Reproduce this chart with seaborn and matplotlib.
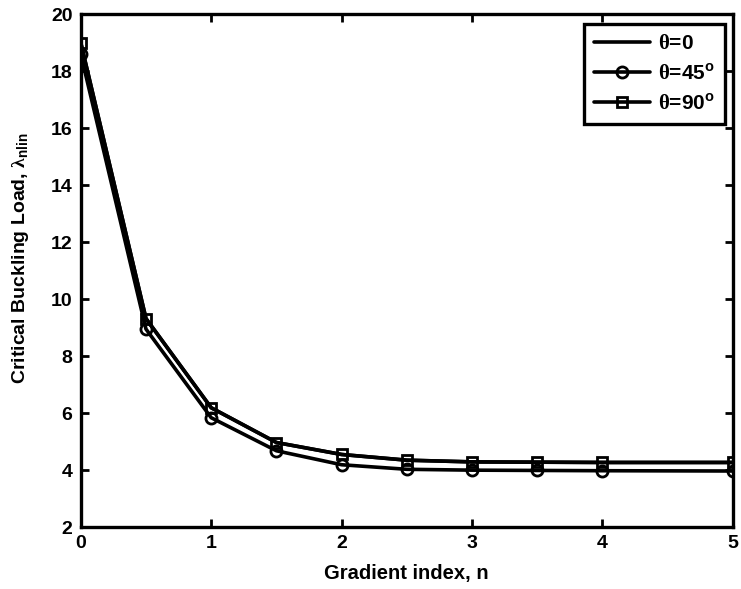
import numpy as np
import pandas as pd
import seaborn as sns
import matplotlib
matplotlib.use("Agg")
import matplotlib.pyplot as plt

############################## data ##############################
n_index = [0, 0.5, 1, 1.5, 2, 2.5, 3, 3.5, 4, 5]
lam_t0 = [19.0, 9.32, 6.19, 4.97, 4.55, 4.35, 4.29, 4.28, 4.27, 4.27]
lam_t45 = [18.6, 8.95, 5.84, 4.68, 4.19, 4.03, 4.00, 3.99, 3.98, 3.97]
lam_t90 = [19.0, 9.32, 6.19, 4.97, 4.55, 4.35, 4.29, 4.28, 4.27, 4.27]
labels = [r"$\mathrm{\theta}$=0",
          r"$\mathrm{\theta}$=45$^{\mathregular{o}}$",
          r"$\mathrm{\theta}$=90$^{\mathregular{o}}$"]
markers = [None, "o", "s"]
xticks = [0, 1, 2, 3, 4, 5]
yticks = [2, 4, 6, 8, 10, 12, 14, 16, 18, 20]

############################## plotting ##############################
sns.set_style("ticks")
plt.rcParams["font.family"] = ["Liberation Sans", "DejaVu Sans"]
plt.rcParams["font.weight"] = "bold"
plt.rcParams["axes.labelweight"] = "bold"
plt.rcParams["mathtext.fontset"] = "custom"
plt.rcParams["mathtext.rm"] = "Liberation Serif"
for k in ["text.color", "axes.labelcolor", "xtick.color", "ytick.color",
          "axes.edgecolor"]:
    plt.rcParams[k] = "black"

fig = plt.figure(figsize=(7.41, 5.89), dpi=100)
ax = fig.add_axes([0.109, 0.105, 0.880, 0.871])

for vals, lab, mk in zip([lam_t0, lam_t45, lam_t90], labels, markers):
    df = pd.DataFrame({"n": n_index, "lam": vals})
    kw = {}
    if mk is not None:
        kw = dict(marker=mk, markersize=8 if mk == "o" else 7,
                  markerfacecolor="none", markeredgecolor="k", markeredgewidth=2)
    sns.lineplot(data=df, x="n", y="lam", ax=ax, color="k", linewidth=2.6,
                 label=lab, **kw)

ax.set_xlim(0, 5)
ax.set_ylim(2, 20)
ax.set_xticks(xticks)
ax.set_yticks(yticks)
ax.tick_params(direction="in", length=6, width=2, top=True, right=True,
               labelsize=14, pad=6)
for lbl in ax.get_xticklabels() + ax.get_yticklabels():
    lbl.set_fontweight("bold")
for sp in ax.spines.values():
    sp.set_linewidth(2.4)

ax.set_xlabel("Gradient index, n", fontsize=14.5, fontweight="bold", labelpad=8)
ax.set_ylabel(r"Critical Buckling Load, $\mathrm{\lambda}_{\mathregular{nlin}}$",
              fontsize=14, fontweight="bold")
ax.yaxis.set_label_coords(-0.077, 0.525)

leg = ax.legend(loc="upper right", frameon=True, fancybox=False, edgecolor="k",
                framealpha=1, fontsize=15, handlelength=2.7, handletextpad=0.35,
                borderpad=0.5, labelspacing=0.45, borderaxespad=0,
                bbox_to_anchor=(0.988, 0.981))
leg.get_frame().set_linewidth(2.4)

##############################Export######################################
plt.savefig("out.png", dpi=100)
